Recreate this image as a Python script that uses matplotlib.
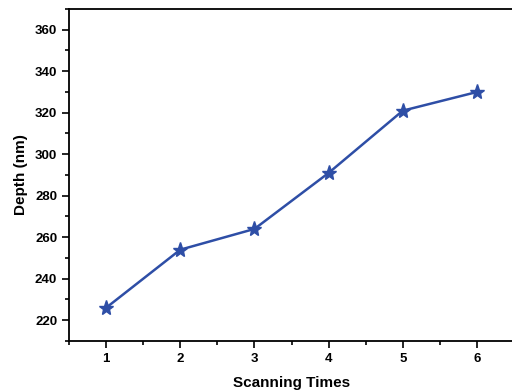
import matplotlib
matplotlib.use('Agg')
from matplotlib import pyplot as plt
from matplotlib.ticker import MultipleLocator

# data
scans = [1, 2, 3, 4, 5, 6]
depth = [226, 254, 264, 291, 321, 330]

plt.rcParams['font.family'] = ['Liberation Sans', 'DejaVu Sans']

fig = plt.figure(figsize=(5.12, 3.91), dpi=100)
ax = fig.add_axes([0.1348, 0.1279, 0.8692, 0.8491])

ax.plot(scans, depth, color='#2E4EA6', lw=1.8, marker='*', ms=11,
        markeredgecolor='#2E4EA6')

ax.set_xlim(0.5, 6.5)
ax.set_ylim(210, 370)
ax.xaxis.set_major_locator(MultipleLocator(1))
ax.xaxis.set_minor_locator(MultipleLocator(0.5))
ax.yaxis.set_major_locator(MultipleLocator(20))
ax.yaxis.set_minor_locator(MultipleLocator(10))
ax.tick_params(which='major', direction='out', length=5, width=1.2, labelsize=9.5)
ax.tick_params(which='minor', direction='out', length=3, width=1.2)
for lab in ax.get_xticklabels() + ax.get_yticklabels():
    lab.set_fontweight('bold')
for s in ax.spines.values():
    s.set_linewidth(1.3)
ax.spines['right'].set_visible(False)

ax.set_xlabel('Scanning Times', fontsize=11, fontweight='bold', labelpad=8)
ax.set_ylabel('Depth (nm)', fontsize=11, fontweight='bold', labelpad=5)

fig.savefig('out.png', dpi=100)
